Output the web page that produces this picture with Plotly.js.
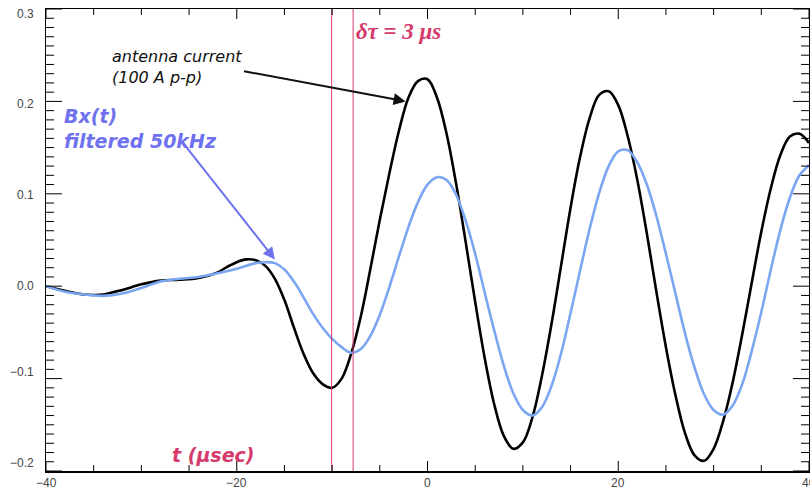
<!DOCTYPE html>
<html>
<head>
<meta charset="utf-8">
<script src="https://cdn.plot.ly/plotly-3.0.1.min.js"></script>
<style>
  html, body { margin: 0; padding: 0; background: #ffffff; }
  #chart { width: 810px; height: 494px; }
</style>
</head>
<body>
<div id="chart"></div>
<script>
// Antenna current (black) and filtered Bx(t) (blue) versus time in microseconds
const tCurrent = [-40, -38, -36, -35, -34, -32, -30, -28, -26, -24, -22, -21, -20, -19, -18, -17, -16, -15, -14, -13, -12, -11, -10, -9, -8, -7, -6, -5, -4, -3, -2, -1, 0, 1, 2, 3, 4, 5, 6, 7, 8, 9, 10, 11, 12, 13, 14, 15, 16, 17, 18, 19, 20, 21, 22, 23, 24, 25, 26, 27, 28, 29, 30, 31, 32, 33, 34, 35, 36, 37, 38, 39, 40];
const current = [0.000, -0.005, -0.009, -0.0095, -0.009, -0.004, 0.002, 0.006, 0.007, 0.009, 0.015, 0.021, 0.026, 0.029, 0.028, 0.022, 0.008, -0.015, -0.045, -0.073, -0.094, -0.106, -0.110, -0.100, -0.073, -0.033, 0.018, 0.072, 0.122, 0.168, 0.204, 0.222, 0.224, 0.204, 0.165, 0.111, 0.048, -0.017, -0.078, -0.128, -0.162, -0.176, -0.169, -0.142, -0.097, -0.041, 0.022, 0.085, 0.140, 0.182, 0.207, 0.211, 0.196, 0.162, 0.115, 0.057, -0.006, -0.066, -0.118, -0.159, -0.183, -0.189, -0.176, -0.146, -0.104, -0.052, 0.004, 0.059, 0.106, 0.142, 0.162, 0.165, 0.155];

const tField = [-40, -38, -36, -34, -32, -30, -28, -26, -24, -22, -20, -18, -17, -16, -15, -14, -13, -12, -11, -10, -9, -8, -7, -6, -5, -4, -3, -2, -1, 0, 1, 2, 3, 4, 5, 6, 7, 8, 9, 10, 11, 12, 13, 14, 15, 16, 17, 18, 19, 20, 21, 22, 23, 24, 25, 26, 27, 28, 29, 30, 31, 32, 33, 34, 35, 36, 37, 38, 39, 40];
const field = [0.000, -0.006, -0.009, -0.0105, -0.008, -0.002, 0.005, 0.008, 0.010, 0.014, 0.019, 0.025, 0.026, 0.025, 0.018, 0.005, -0.012, -0.030, -0.045, -0.057, -0.066, -0.072, -0.068, -0.054, -0.031, -0.001, 0.032, 0.064, 0.091, 0.110, 0.118, 0.115, 0.099, 0.071, 0.035, -0.007, -0.048, -0.086, -0.116, -0.134, -0.140, -0.131, -0.108, -0.073, -0.029, 0.017, 0.062, 0.101, 0.130, 0.146, 0.147, 0.134, 0.110, 0.076, 0.035, -0.008, -0.051, -0.088, -0.117, -0.134, -0.139, -0.129, -0.106, -0.070, -0.028, 0.018, 0.061, 0.096, 0.120, 0.131];

// Times of the two minima marked by vertical lines
const markTimes = [-10.05, -7.8];

// Labelled (major) ticks
const xMajorVals = [-40, -20, 0, 20, 40];
const xMajorText = ['\u221240', '\u221220', '0', '20', '40'];
const yMajorVals = [-0.2, -0.1, 0.0, 0.1, 0.2, 0.3];
const yMajorText = ['\u22120.2', '\u22120.1', '0.0', '0.1', '0.2', '0.3'];
// Unlabelled (minor) tick spacing
const xMinorStep = 5;
const yMinorStep = 0.01;

const W = 810, H = 494;
const margin = { l: 46, r: 1, t: 9, b: 23 };
const plotW = W - margin.l - margin.r;
const plotH = H - margin.t - margin.b;

// Tick look: lengths in pixels, ticks point into the plot on all four sides
const tickStyle = { xMajor: 10, xMinor: 6, yMajor: 16, yMinor: 8 };
// Vertical nudge (px, up is positive) of each y label relative to its tick
const yLabelNudge = [8, 7, 0, -1, -3, -5];

const handFont = 'DejaVu Sans, sans-serif';
const tickFont = { family: 'Liberation Sans, Arial, sans-serif', size: 12, color: '#444444' };
const accent = '#d43b6c';
const fieldColor = '#7ba6f1';
const labelBlue = '#6f72ee';

function stepVals(lo, hi, step) {
  const vals = [];
  const n = Math.round((hi - lo) / step);
  for (let i = 0; i <= n; i++) vals.push(+(lo + i * step).toFixed(4));
  return vals;
}
const isMajor = (v, majors) => majors.some(m => Math.abs(m - v) < 1e-6);

const traces = [
  {
    x: tCurrent, y: current, type: 'scatter', mode: 'lines',
    line: { color: '#000000', width: 2.6, shape: 'spline', smoothing: 1 },
    hoverinfo: 'skip'
  },
  {
    x: tField, y: field, type: 'scatter', mode: 'lines',
    line: { color: fieldColor, width: 2.6, shape: 'spline', smoothing: 1 },
    hoverinfo: 'skip'
  }
];

const shapes = markTimes.map(t => ({
  type: 'line', xref: 'x', yref: 'paper', x0: t, x1: t, y0: 0, y1: 1,
  line: { color: accent, width: 1 }, layer: 'above'
}));

// Inward ticks on bottom/top (x) and left/right (y)
const tickLine = { color: '#000000', width: 1 };
stepVals(-40, 40, xMinorStep).forEach(v => {
  const f = (isMajor(v, xMajorVals) ? tickStyle.xMajor : tickStyle.xMinor) / plotH;
  shapes.push({ type: 'line', xref: 'x', yref: 'paper', x0: v, x1: v, y0: 0, y1: f, line: tickLine, layer: 'above' });
  shapes.push({ type: 'line', xref: 'x', yref: 'paper', x0: v, x1: v, y0: 1, y1: 1 - f, line: tickLine, layer: 'above' });
});
stepVals(-0.2, 0.3, yMinorStep).forEach(v => {
  const f = (isMajor(v, yMajorVals) ? tickStyle.yMajor : tickStyle.yMinor) / plotW;
  shapes.push({ type: 'line', xref: 'paper', yref: 'y', x0: 0, x1: f, y0: v, y1: v, line: tickLine, layer: 'above' });
  shapes.push({ type: 'line', xref: 'paper', yref: 'y', x0: 1, x1: 1 - f, y0: v, y1: v, line: tickLine, layer: 'above' });
});

const annotations = [
  {
    x: -33.3, y: 0.237, xref: 'x', yref: 'y', xanchor: 'left', yanchor: 'middle', align: 'left',
    text: '<i>antenna current<br>(100 A p-p)</i>', showarrow: false,
    font: { family: handFont, size: 16, color: '#111111' }
  },
  {
    x: -2.3, y: 0.200, ax: -19.4, ay: 0.233, xref: 'x', yref: 'y', axref: 'x', ayref: 'y',
    text: '', showarrow: true, arrowhead: 2, arrowsize: 1.2, arrowwidth: 2, arrowcolor: '#111111'
  },
  {
    x: -38.3, y: 0.171, xref: 'x', yref: 'y', xanchor: 'left', yanchor: 'middle', align: 'left',
    text: '<b><i>Bx(t)<br>filtered 50kHz</i></b>', showarrow: false,
    font: { family: handFont, size: 19, color: labelBlue }
  },
  {
    x: -16.0, y: 0.029, ax: -25.7, ay: 0.156, xref: 'x', yref: 'y', axref: 'x', ayref: 'y',
    text: '', showarrow: true, arrowhead: 2, arrowsize: 1.2, arrowwidth: 2, arrowcolor: labelBlue
  },
  {
    x: -7.7, y: 0.276, xref: 'x', yref: 'y', xanchor: 'left', yanchor: 'middle',
    text: '<b><i>\u03b4\u03c4</i> = <i>3 \u03bcs</i></b>', showarrow: false,
    font: { family: 'Liberation Serif, serif', size: 23, color: accent }
  },
  {
    x: -22.4, y: -0.183, xref: 'x', yref: 'y', xanchor: 'center', yanchor: 'middle',
    text: '<b><i>t (\u03bcsec)</i></b>', showarrow: false,
    font: { family: handFont, size: 19, color: accent }
  }
];

// Tick labels
xMajorVals.forEach((v, i) => annotations.push({
  x: v, y: 0, xref: 'x', yref: 'paper', xanchor: 'center', yanchor: 'top', yshift: -3,
  text: xMajorText[i], showarrow: false, font: tickFont
}));
yMajorVals.forEach((v, i) => annotations.push({
  x: 0, y: v, xref: 'paper', yref: 'y', xanchor: 'right', yanchor: 'middle', xshift: -10, yshift: yLabelNudge[i],
  text: yMajorText[i], showarrow: false, font: tickFont
}));

const axisCommon = {
  showgrid: false, zeroline: false, showline: true, linecolor: '#000000', linewidth: 1.5,
  mirror: true, ticks: '', showticklabels: false, fixedrange: true
};

const layout = {
  width: W, height: H,
  margin: margin,
  paper_bgcolor: '#ffffff', plot_bgcolor: '#ffffff',
  showlegend: false,
  hovermode: false,
  xaxis: Object.assign({}, axisCommon, { range: [-40, 40] }),
  yaxis: Object.assign({}, axisCommon, { range: [-0.2, 0.3] }),
  shapes: shapes,
  annotations: annotations
};

Plotly.newPlot('chart', traces, layout, { displayModeBar: false, staticPlot: true });
</script>
</body>
</html>
